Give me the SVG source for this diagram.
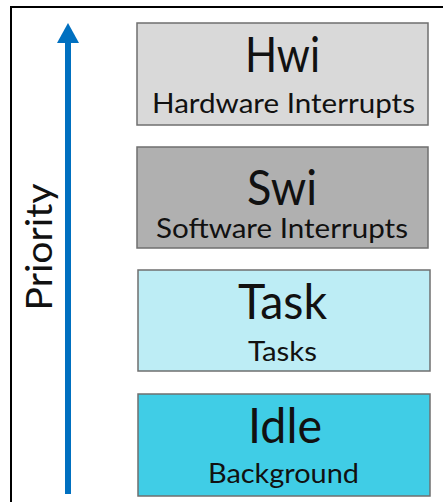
<svg xmlns="http://www.w3.org/2000/svg" width="443" height="502" viewBox="0 0 443 502">
<style>
.box{stroke:#6f6f6f;stroke-width:1.5}
.t{font-family:Lato,"Open Sans",sans-serif;fill:#111;text-anchor:middle}
.big{font-size:48px}
.small{font-size:26px}
</style>
<rect width="443" height="502" fill="#fff"/>
<rect x="11" y="7" width="460" height="520" fill="none" stroke="#000" stroke-width="2"/>
<g id="connectors">
<line x1="68" y1="40" x2="68" y2="494" stroke="#0070c0" stroke-width="6"/>
<polygon points="57,43 79,43 68,23" fill="#0070c0"/>
</g>
<g id="priority">
<text class="t" font-size="37" transform="translate(52,247) rotate(-90)" textLength="127" lengthAdjust="spacingAndGlyphs">Priority</text>
</g>
<g id="hwi">
<rect class="box" x="137" y="23" width="291" height="102" fill="#d9d9d9"/>
<text class="t big" x="282.5" y="72" textLength="75" lengthAdjust="spacingAndGlyphs">Hwi</text>
<text class="t small" x="283.5" y="113" textLength="263" lengthAdjust="spacingAndGlyphs">Hardware Interrupts</text>
</g>
<g id="swi">
<rect class="box" x="137" y="147" width="291" height="101" fill="#b0b0b0"/>
<text class="t big" x="282" y="205" textLength="70" lengthAdjust="spacingAndGlyphs">Swi</text>
<text class="t small" x="282" y="238" textLength="252" lengthAdjust="spacingAndGlyphs">Software Interrupts</text>
</g>
<g id="task">
<rect class="box" x="138" y="270" width="292" height="101" fill="#bdedf5"/>
<text class="t big" x="282.5" y="319" textLength="89" lengthAdjust="spacingAndGlyphs">Task</text>
<text class="t small" x="282.5" y="361" textLength="69" lengthAdjust="spacingAndGlyphs">Tasks</text>
</g>
<g id="idle">
<rect class="box" x="138" y="394" width="292" height="102" fill="#40cde6"/>
<text class="t big" x="285" y="443" textLength="74" lengthAdjust="spacingAndGlyphs">Idle</text>
<text class="t small" x="283.5" y="483" textLength="151" lengthAdjust="spacingAndGlyphs">Background</text>
</g>
</svg>
